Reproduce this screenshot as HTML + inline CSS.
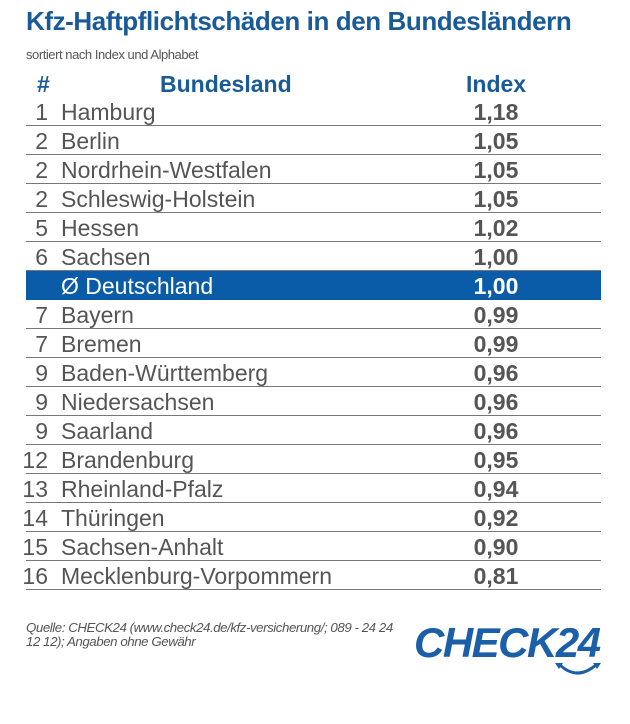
<!DOCTYPE html>
<html><head><meta charset="utf-8"><style>
body{margin:0;width:630px;height:724px;background:#fff;font-family:"Liberation Sans",Arial,sans-serif;position:relative;overflow:hidden}
.abs{position:absolute;white-space:nowrap}
#title{left:26px;top:6px;font-size:26px;font-weight:bold;color:#1a5b97;letter-spacing:-0.42px}
#sub{left:26px;top:47px;font-size:13px;color:#555;letter-spacing:-0.45px}
.hdr{top:71px;font-size:23px;font-weight:bold;color:#1a5b97}
.row{position:absolute;left:26px;width:575px;height:29px;border-bottom:1.5px solid #777;box-sizing:border-box;color:#555;font-size:23px}
.row span{position:absolute;top:4px;line-height:23px}
.rk{right:553px;text-align:right}
.nm{left:35px}
.ix{left:422px;width:96px;text-align:center;font-weight:bold}
.row.hl{background:#0a5ca8;color:#fff;border-bottom:none}
#src{left:26px;top:621px;font-size:13.3px;font-style:italic;color:#555;line-height:14px;letter-spacing:-0.45px}
#logo{left:414px;top:619px;font-size:42px;font-weight:bold;font-style:italic;color:#1a5fa8;letter-spacing:-1.5px}
</style></head><body>
<div class="abs" id="title">Kfz-Haftpflichtschäden in den Bundesländern</div>
<div class="abs" id="sub">sortiert nach Index und Alphabet</div>
<div class="abs hdr" style="left:37px">#</div>
<div class="abs hdr" style="left:160px">Bundesland</div>
<div class="abs hdr" style="left:466px">Index</div>
<div id="rows"></div>
<div class="abs" id="src">Quelle: CHECK24 (www.check24.de/kfz-versicherung/; 089 - 24 24<br>12 12); Angaben ohne Gewähr</div>
<div class="abs" id="logo">CHECK24</div>
<svg class="abs" style="left:555px;top:660px" width="50" height="20"><path d="M4 4 Q22 22 42 4" fill="none" stroke="#1a5fa8" stroke-width="3"/><path d="M0 3 L8 3 L4 9Z M38 3 L46 3 L42 9Z" fill="#1a5fa8"/></svg>
<script>
const ranks=["1","2","2","2","5","6","","7","7","9","9","9","12","13","14","15","16"];
const states=["Hamburg","Berlin","Nordrhein-Westfalen","Schleswig-Holstein","Hessen","Sachsen","Ø Deutschland","Bayern","Bremen","Baden-Württemberg","Niedersachsen","Saarland","Brandenburg","Rheinland-Pfalz","Thüringen","Sachsen-Anhalt","Mecklenburg-Vorpommern"];
const values=[1.18,1.05,1.05,1.05,1.02,1.00,1.00,0.99,0.99,0.96,0.96,0.96,0.95,0.94,0.92,0.90,0.81];
const c=document.getElementById('rows');
states.forEach((s,i)=>{
  const r=document.createElement('div');
  r.className='row'+(s.startsWith('Ø')?' hl':'');
  r.style.top=(97+29*i)+'px';
  
  
  r.innerHTML='<span class="rk">'+ranks[i]+'</span><span class="nm">'+s+'</span><span class="ix">'+values[i].toFixed(2).replace('.',',')+'</span>';
  c.appendChild(r);
});
</script>
</body></html>
